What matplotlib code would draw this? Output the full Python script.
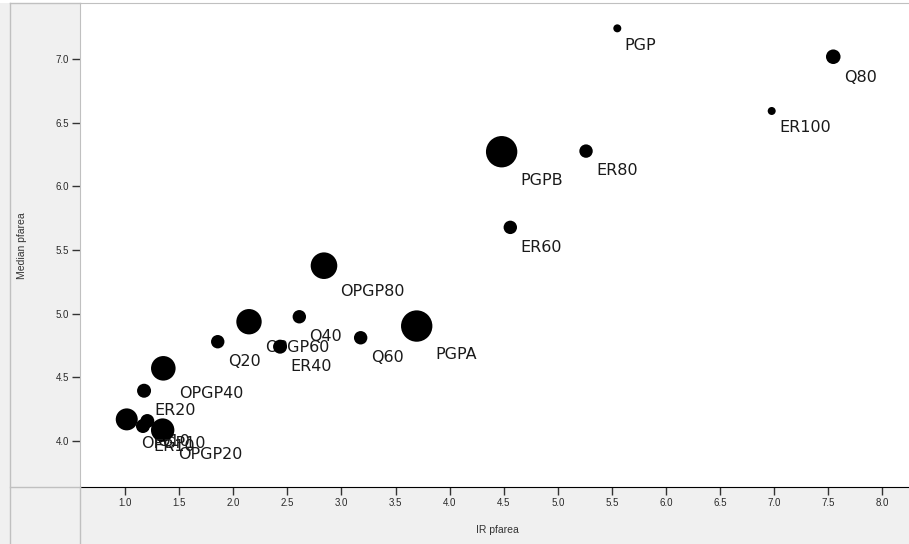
import matplotlib
matplotlib.use("Agg")
import matplotlib.pyplot as plt
from matplotlib.lines import Line2D
from matplotlib.patches import Rectangle
import numpy as np

# ---- data ----
labels = ["Q10", "Q20", "Q40", "Q60", "Q80",
          "OPGP10", "OPGP20", "OPGP40", "OPGP60", "OPGP80",
          "ER10", "ER20", "ER40", "ER60", "ER80", "ER100",
          "PGP", "PGPA", "PGPB"]
ir_pfarea = [1.206, 1.857, 2.611, 3.178, 7.546,
             1.016, 1.348, 1.354, 2.146, 2.839,
             1.166, 1.176, 2.433, 4.561, 5.261, 6.977,
             5.550, 3.696, 4.481]
median_pfarea = [4.157, 4.780, 4.976, 4.811, 7.018,
                 4.170, 4.086, 4.571, 4.937, 5.377,
                 4.118, 4.395, 4.741, 5.678, 6.277, 6.592,
                 7.241, 4.903, 6.272]
bubble = [49, 45, 45, 45, 53,
          121, 137, 151, 161, 177,
          49, 49, 49, 45, 45, 16,
          16, 246, 246]
x_ticks = [1.0, 1.5, 2.0, 2.5, 3.0, 3.5, 4.0, 4.5, 5.0, 5.5, 6.0, 6.5, 7.0, 7.5, 8.0]
y_ticks = [4.0, 4.5, 5.0, 5.5, 6.0, 6.5, 7.0]
x_label = "IR pfarea"
y_label = "Median pfarea"

# ---- figure ----
W, H = 909, 544
fig = plt.figure(figsize=(W / 100, H / 100), dpi=100, facecolor="#f0f0f0")
fig.add_artist(Rectangle((0, 541 / H), 1, 3 / H, transform=fig.transFigure,
                         facecolor="white", edgecolor="none", zorder=0))

ax = fig.add_axes([80 / W, (H - 487) / H, (W - 80) / W, (487 - 3) / H])
ax.set_facecolor("white")
ax.set_xlim(0.584, 8.246)
ax.set_ylim(3.639, 7.44)

ax.set_xticks(x_ticks)
ax.set_xticklabels([f"{v:.1f}" for v in x_ticks])
ax.set_yticks(y_ticks)
ax.set_yticklabels([f"{v:.1f}" for v in y_ticks])
ax.tick_params(axis="both", direction="out", length=6, width=1,
               color="#333333", labelsize=7, labelcolor="#2a2a2a", pad=2)
for lab in ax.get_xticklabels() + ax.get_yticklabels():
    lab.set_family(["Liberation Sans", "DejaVu Sans"])

ax.spines["right"].set_visible(False)
ax.spines["top"].set_color("#c0c0c0")
ax.spines["left"].set_color("#c0c0c0")
ax.spines["bottom"].set_color("black")

# frame lines of the surrounding panel
gray = "#c0c0c0"
fig.add_artist(Line2D([9.5 / W, 9.5 / W], [0, 541 / H], color=gray, lw=1))
fig.add_artist(Line2D([9.5 / W, 80 / W], [541 / H, 541 / H], color=gray, lw=1))
fig.add_artist(Line2D([9.5 / W, 80 / W], [(H - 487) / H, (H - 487) / H], color=gray, lw=1))
fig.add_artist(Line2D([80 / W, 80 / W], [0, (H - 487) / H], color=gray, lw=1))

# points and labels, drawn in sequence
for i, (lab, xv, yv, b) in enumerate(zip(labels, ir_pfarea, median_pfarea, bubble)):
    r_px = np.sqrt(b)
    r_pt = r_px * 0.72
    ax.scatter([xv], [yv], s=(2 * r_pt) ** 2, color="black", edgecolors="none",
               zorder=3 + 2 * i)
    ax.annotate(lab, (xv, yv), xytext=((r_px + 3.3) * 0.72, -(r_px + 5.5) * 0.72),
                textcoords="offset points", ha="left", va="top",
                fontsize=11.5, color="#1a1a1a", family="DejaVu Sans",
                zorder=4 + 2 * i)

fig.text(497 / W, 1 - 530 / H, x_label, ha="center", va="center",
         fontsize=7.5, color="#333333", family=["Liberation Sans", "DejaVu Sans"])
fig.text(22 / W, 1 - 246 / H, y_label, ha="center", va="center", rotation=90,
         fontsize=7.5, color="#333333", family=["Liberation Sans", "DejaVu Sans"])

fig.savefig("out.png", dpi=100, facecolor=fig.get_facecolor())
